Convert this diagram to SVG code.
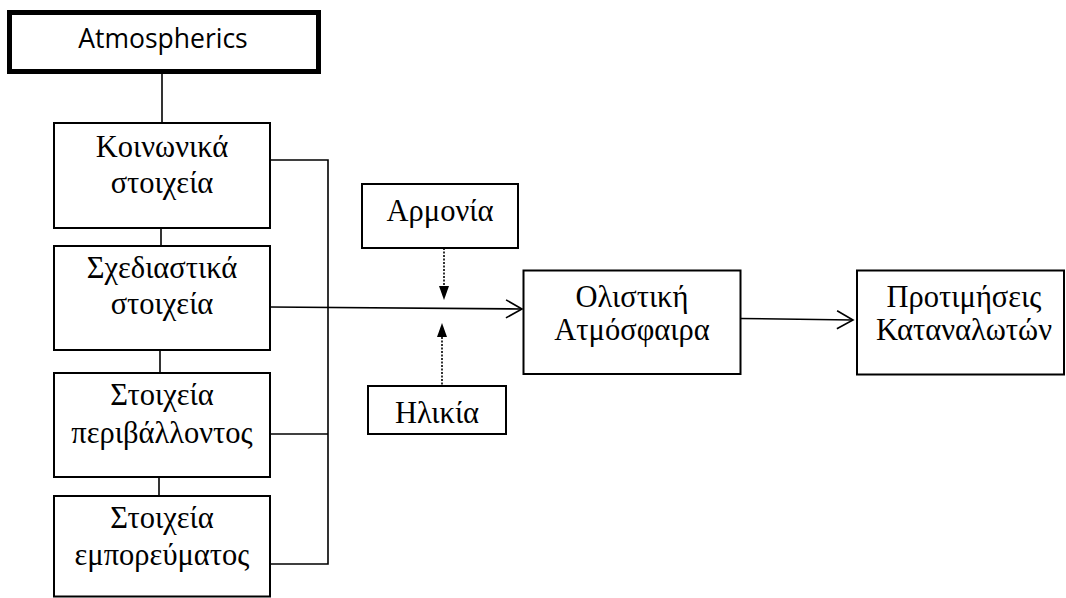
<svg xmlns="http://www.w3.org/2000/svg" width="1066" height="598" viewBox="0 0 1066 598">
<style>
.box{fill:#fff;stroke:#000;stroke-width:2}
.thick{fill:#fff;stroke:#000;stroke-width:5}
.ln{fill:none;stroke:#000;stroke-width:1.6}
.dot{fill:none;stroke:#000;stroke-width:1.6;stroke-dasharray:2 1.5}
.t{font-family:"Liberation Serif","Times New Roman",serif;font-size:30.5px;fill:#000;text-anchor:middle}
.s{font-family:"Open Sans","Liberation Sans",sans-serif;font-size:26.5px;fill:#000;text-anchor:middle}
</style>
<defs>
<marker id="open" markerWidth="20" markerHeight="22" refX="17" refY="10" orient="auto" markerUnits="userSpaceOnUse">
<path d="M1,1 L17,10 L1,19" fill="none" stroke="#000" stroke-width="1.6"/>
</marker>
</defs>
<g id="connectors">
<line class="ln" x1="162" y1="74" x2="162" y2="123"/>
<line class="ln" x1="161" y1="228" x2="161" y2="246"/>
<line class="ln" x1="160" y1="350" x2="160" y2="373"/>
<line class="ln" x1="159" y1="477" x2="159" y2="496"/>
<polyline class="ln" points="270,160 328,160 328,564 270,564"/>
<line class="ln" x1="270" y1="434" x2="328" y2="434"/>
<line class="ln" x1="270" y1="307" x2="522" y2="309" marker-end="url(#open)"/>
<line class="ln" x1="740" y1="318.5" x2="853" y2="320" marker-end="url(#open)"/>
<line class="dot" x1="444" y1="248" x2="444" y2="287"/>
<path d="M439,286 L449,286 L444,300 Z" fill="#000"/>
<line class="dot" x1="442" y1="337" x2="442" y2="386"/>
<path d="M437,337 L447,337 L442,323 Z" fill="#000"/>
</g>
<g id="atmospherics">
<rect class="thick" x="9.5" y="12.5" width="309" height="59"/>
<text class="s" x="163" y="48">Atmospherics</text>
</g>
<g id="koinonika">
<rect class="box" x="54" y="123" width="216" height="105"/>
<text class="t" x="162" y="157">Κοινωνικά</text>
<text class="t" x="162" y="193">στοιχεία</text>
</g>
<g id="schediastika">
<rect class="box" x="54" y="246" width="216" height="104"/>
<text class="t" x="162" y="278">Σχεδιαστικά</text>
<text class="t" x="162" y="314">στοιχεία</text>
</g>
<g id="perivallontos">
<rect class="box" x="54" y="373" width="216" height="104"/>
<text class="t" x="162" y="405">Στοιχεία</text>
<text class="t" x="162" y="443">περιβάλλοντος</text>
</g>
<g id="emporevmatos">
<rect class="box" x="54" y="496" width="216" height="100.5"/>
<text class="t" x="162" y="528">Στοιχεία</text>
<text class="t" x="162" y="565">εμπορεύματος</text>
</g>
<g id="armonia">
<rect class="box" x="362" y="184" width="156" height="64"/>
<text class="t" x="440" y="221">Αρμονία</text>
</g>
<g id="ilikia">
<rect class="box" x="368" y="386" width="138" height="48"/>
<text class="t" x="437" y="423">Ηλικία</text>
</g>
<g id="olistiki">
<rect class="box" x="523.5" y="270.5" width="217" height="103.5"/>
<text class="t" x="632" y="307">Ολιστική</text>
<text class="t" x="632" y="340">Ατμόσφαιρα</text>
</g>
<g id="protimiseis">
<rect class="box" x="857" y="270.5" width="207" height="104"/>
<text class="t" x="964" y="307">Προτιμήσεις</text>
<text class="t" x="964" y="340">Καταναλωτών</text>
</g>
</svg>
